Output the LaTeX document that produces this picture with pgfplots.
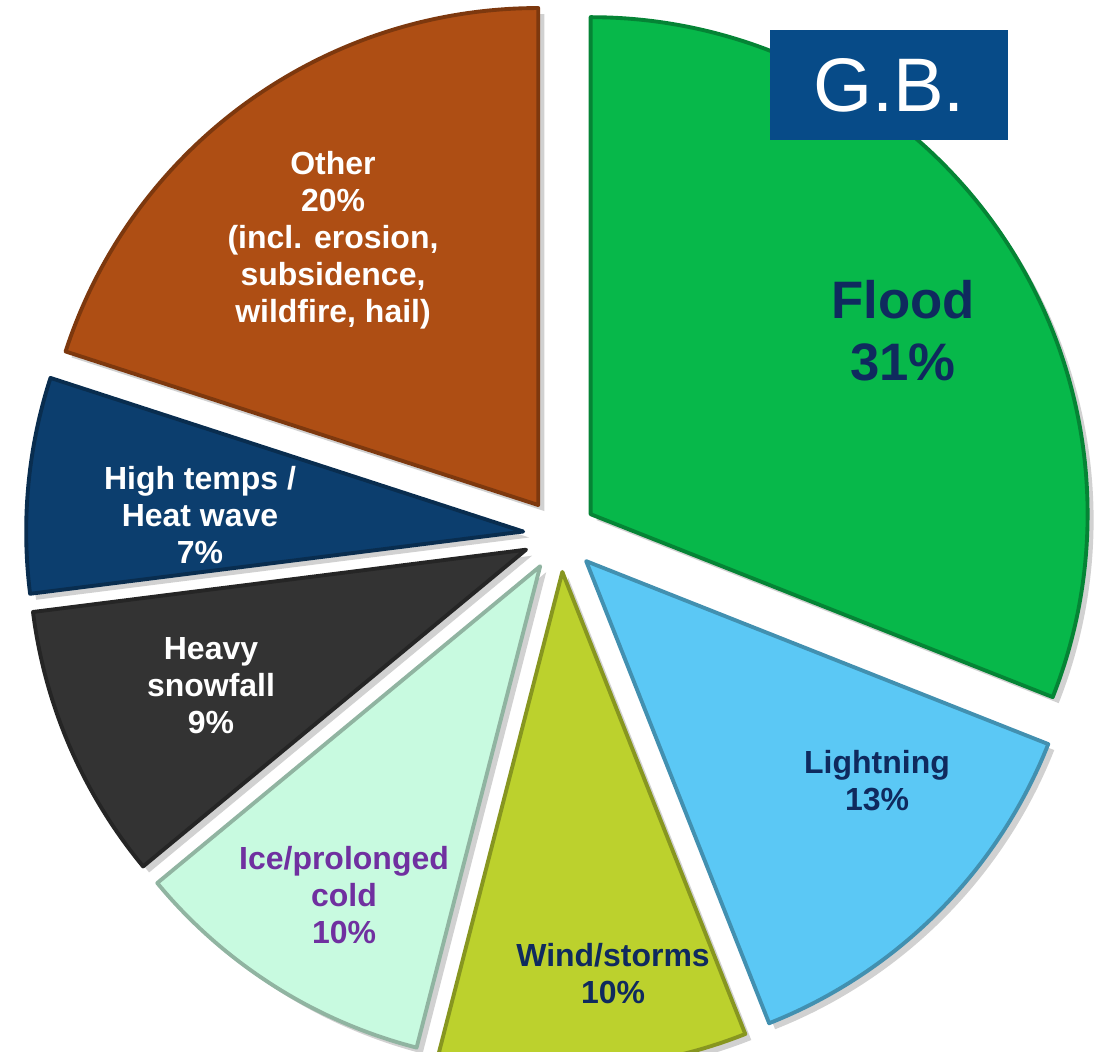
\documentclass[border=0pt]{standalone}
\usepackage{pgfplots}
\pgfplotsset{compat=1.18}
\usepackage{pgfplotstable}
\usepackage{fontspec}
\setmainfont{Liberation Sans}
\definecolor{cFlood}{HTML}{07B84A}
\definecolor{cLight}{HTML}{5BC8F5}
\definecolor{cWind}{HTML}{BCD12D}
\definecolor{cIce}{HTML}{C8FAE0}
\definecolor{cSnow}{HTML}{333333}
\definecolor{cHeat}{HTML}{0C3E6E}
\definecolor{cOther}{HTML}{AE4E14}
\definecolor{cBox}{HTML}{074B88}
\definecolor{cNavy}{HTML}{0F2A5E}
\definecolor{cPurple}{HTML}{7030A0}
\pgfplotstableread{
value color
31 cFlood
13 cLight
10 cWind
10 cIce
9 cSnow
7 cHeat
20 cOther
}\piedata
\begin{document}
\begin{tikzpicture}
\path[use as bounding box] (0,0) rectangle (11.04cm,10.52cm);
\begin{axis}[at={(0,0)}, anchor=south west, scale only axis,
  width=11.04cm, height=10.52cm, xmin=0, xmax=1104, ymin=0, ymax=1052,
  axis lines=none, clip=true]
% shadows
\def\cumangle{90}
\pgfplotsforeachungrouped \i in {0,...,6}{%
  \pgfplotstablegetelem{\i}{value}\of\piedata \let\val\pgfplotsretval
  \pgfmathsetmacro\aS{\cumangle}%
  \pgfmathsetmacro\aE{\cumangle-3.6*\val}%
  \pgfmathsetmacro\aM{(\aS+\aE)/2}%
  \edef\cmd{\noexpand\fill[black!18] (axis cs:566,511) ++(\aM:0.37cm) -- ++(\aS:4.97cm) arc[start angle=\aS, end angle=\aE, radius=4.97cm] -- cycle;}%
  \cmd
  \let\cumangle\aE
}
% slices
\def\cumangle{90}
\pgfplotsforeachungrouped \i in {0,...,6}{%
  \pgfplotstablegetelem{\i}{value}\of\piedata \let\val\pgfplotsretval
  \pgfplotstablegetelem{\i}{color}\of\piedata \let\col\pgfplotsretval
  \pgfmathsetmacro\aS{\cumangle}%
  \pgfmathsetmacro\aE{\cumangle-3.6*\val}%
  \pgfmathsetmacro\aM{(\aS+\aE)/2}%
  \edef\cmd{\noexpand\fill[\col, draw=\col!72!black, line width=1.1pt, line join=round] (axis cs:560,517) ++(\aM:0.37cm) -- ++(\aS:4.97cm) arc[start angle=\aS, end angle=\aE, radius=4.97cm] -- cycle;}%
  \cmd
  \let\cumangle\aE
}
% labels
\node[align=center, text=white, font=\fontsize{9.1}{10.5}\selectfont\bfseries] at (axis cs:333,812) {Other\\20\%\\(incl. erosion,\\subsidence,\\wildfire, hail)};
\node[align=center, text=white, font=\fontsize{9.1}{10.5}\selectfont\bfseries] at (axis cs:200,537) {High temps /\\Heat wave\\7\%};
\node[align=center, text=white, font=\fontsize{9.1}{10.5}\selectfont\bfseries] at (axis cs:211,366) {Heavy\\snowfall\\9\%};
\node[align=center, text=cPurple, font=\fontsize{9.1}{10.5}\selectfont\bfseries] at (axis cs:344,157) {Ice/prolonged\\cold\\10\%};
\node[align=center, text=cNavy, font=\fontsize{9.1}{10.5}\selectfont\bfseries] at (axis cs:613,78) {Wind/storms\\10\%};
\node[align=center, text=cNavy, font=\fontsize{9.1}{10.5}\selectfont\bfseries] at (axis cs:877,271) {Lightning\\13\%};
\node[align=center, text=cNavy, font=\fontsize{15}{17.6}\selectfont\bfseries] at (axis cs:903,721) {Flood\\31\%};
\fill[cBox] (axis cs:770,912) rectangle (axis cs:1008,1022);
\node[text=white, font=\fontsize{21.6}{24}\selectfont] at (axis cs:889,967) {G.B.};
\end{axis}
\end{tikzpicture}
\end{document}
